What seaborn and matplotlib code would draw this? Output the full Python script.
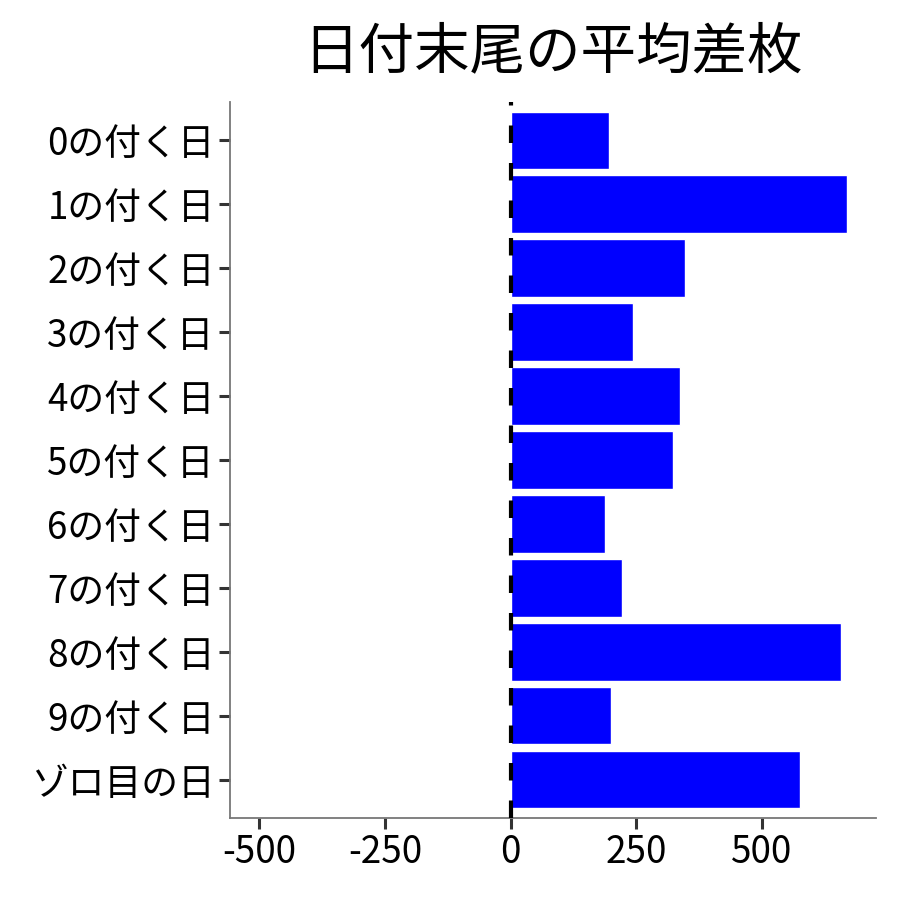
import pandas as pd
import matplotlib
matplotlib.use('Agg')
import matplotlib.pyplot as plt
import seaborn as sns

labels = ['0の付く日', '1の付く日', '2の付く日', '3の付く日', '4の付く日', '5の付く日',
          '6の付く日', '7の付く日', '8の付く日', '9の付く日', 'ゾロ目の日']
diff = [196, 669, 347, 244, 337, 323, 188, 222, 657, 200, 577]
xticks = [-500, -250, 0, 250, 500]

df = pd.DataFrame({'label': labels, 'diff': diff})

sns.set_style('white')
plt.rcParams['font.family'] = ['Noto Sans CJK JP', 'DejaVu Sans']

fig = plt.figure(figsize=(9, 9), dpi=100)
ax = fig.add_axes([0.2556, 0.0911, 0.7177, 0.7956])

sns.barplot(data=df, y='label', x='diff', orient='h', color='#0000ff',
            saturation=1, width=0.9, ax=ax)
ax.axvline(0, color='black', lw=3, linestyle=(0, (4.2, 4.8)), zorder=5)

lo, hi = -500, max(diff)
pad = (hi - lo) * 0.05
ax.set_xlim(lo - pad, hi + pad)
ax.set_ylim(len(labels) - 0.4, -0.6)
ax.set_xticks(xticks)
ax.set_xticklabels([str(t) for t in xticks])
ax.set_xlabel('')
ax.set_ylabel('')

for s in ['top', 'right']:
    ax.spines[s].set_visible(False)
for s in ['left', 'bottom']:
    ax.spines[s].set_color('#777777')
    ax.spines[s].set_linewidth(1.3)
ax.tick_params(axis='both', bottom=True, left=True, length=8, width=2.2,
               color='#333333', labelsize=26.5, labelcolor='black', pad=3)

ax.set_title('日付末尾の平均差枚', fontsize=40, color='black', pad=24)

fig.savefig('out.png', dpi=100)
